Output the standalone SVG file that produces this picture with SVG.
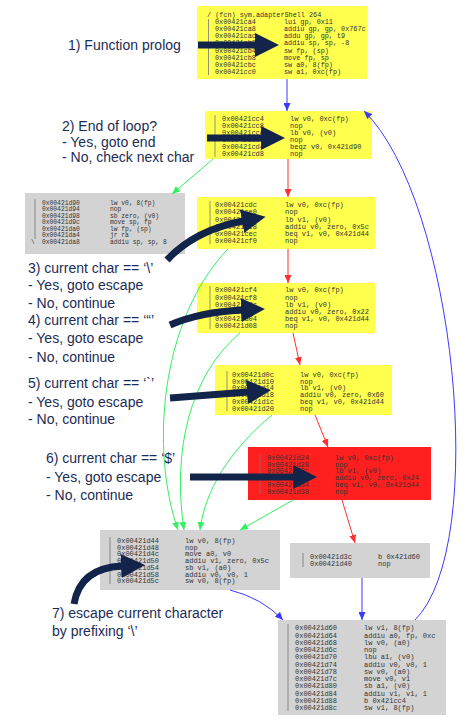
<svg xmlns="http://www.w3.org/2000/svg" width="470" height="723" viewBox="0 0 470 723">
<defs>
<style>
.lbl{font-family:"Liberation Sans",Arial,sans-serif;font-size:14px;fill:#1c2c55}
.code{font-family:"Liberation Mono","Courier New",monospace;font-size:7px;fill:#333}
.code1{font-family:"Liberation Mono","Courier New",monospace;font-size:6.8px;fill:#333}
.code3{font-family:"Liberation Mono","Courier New",monospace;font-size:6.3px;fill:#333}
.yel{fill:#ffff4d}
.gry{fill:#d3d3d3}
.redb{fill:#ff1f1f}
.bar{stroke:#777;stroke-width:0.8}
.thick{fill:none;stroke:#13244a;stroke-width:7}
.g{fill:none;stroke:#33f060;stroke-width:1}
.r{fill:none;stroke:#ff3030;stroke-width:1}
.b{fill:none;stroke:#3a3aff;stroke-width:1}
</style>
<marker id="mth" viewBox="0 0 24 24" refX="1" refY="12" markerWidth="24" markerHeight="24" markerUnits="userSpaceOnUse" orient="auto"><path d="M0,0 L24,12 L0,24 z" fill="#13244a"/></marker>
<marker id="mg" viewBox="0 0 8 7" refX="8" refY="3.5" markerWidth="8" markerHeight="7" markerUnits="userSpaceOnUse" orient="auto"><path d="M0,0 L8,3.5 L0,7 z" fill="#33f060"/></marker>
<marker id="mr" viewBox="0 0 8 7" refX="8" refY="3.5" markerWidth="8" markerHeight="7" markerUnits="userSpaceOnUse" orient="auto"><path d="M0,0 L8,3.5 L0,7 z" fill="#ff3030"/></marker>
<marker id="mb" viewBox="0 0 8 7" refX="8" refY="3.5" markerWidth="8" markerHeight="7" markerUnits="userSpaceOnUse" orient="auto"><path d="M0,0 L8,3.5 L0,7 z" fill="#3a3aff"/></marker>
</defs>
<rect width="470" height="723" fill="#ffffff"/>

<g id="node-prolog">
<rect class="yel" x="197" y="6" width="170" height="73"/>
<line class="bar" x1="208.5" y1="19" x2="208.5" y2="75"/>
<text class="code1" x="207" y="17.3">/ (fcn) sym.adapterShell 264</text>
<text class="code1" y="24"><tspan x="215">0x00421ca4</tspan><tspan x="284">lui gp, 0x11</tspan></text>
<text class="code1" y="31.1"><tspan x="215">0x00421ca8</tspan><tspan x="284">addiu gp, gp, 0x767c</tspan></text>
<text class="code1" y="38.3"><tspan x="215">0x00421cac</tspan><tspan x="284">addu gp, gp, t9</tspan></text>
<text class="code1" y="45.4"><tspan x="215">0x00421cb0</tspan><tspan x="284">addiu sp, sp, -8</tspan></text>
<text class="code1" y="52.6"><tspan x="215">0x00421cb4</tspan><tspan x="284">sw fp, (sp)</tspan></text>
<text class="code1" y="59.7"><tspan x="215">0x00421cb8</tspan><tspan x="284">move fp, sp</tspan></text>
<text class="code1" y="66.8"><tspan x="215">0x00421cbc</tspan><tspan x="284">sw a0, 8(fp)</tspan></text>
<text class="code1" y="74"><tspan x="215">0x00421cc0</tspan><tspan x="284">sw a1, 0xc(fp)</tspan></text>
</g>

<g id="node-loop">
<rect class="yel" x="205" y="111" width="167" height="48"/>
<line class="bar" x1="215" y1="115" x2="215" y2="157"/>
<text class="code" y="121"><tspan x="222">0x00421cc4</tspan><tspan x="290">lw v0, 0xc(fp)</tspan></text>
<text class="code" y="128"><tspan x="222">0x00421cc8</tspan><tspan x="290">nop</tspan></text>
<text class="code" y="135"><tspan x="222">0x00421ccc</tspan><tspan x="290">lb v0, (v0)</tspan></text>
<text class="code" y="142"><tspan x="222">0x00421cd0</tspan><tspan x="290">nop</tspan></text>
<text class="code" y="149"><tspan x="222">0x00421cd4</tspan><tspan x="290">beqz v0, 0x421d90</tspan></text>
<text class="code" y="156"><tspan x="222">0x00421cd8</tspan><tspan x="290">nop</tspan></text>
</g>

<g id="node-end">
<rect class="gry" x="25" y="193" width="160" height="61"/>
<line class="bar" x1="35" y1="199" x2="35" y2="239"/>
<text class="code3" x="31" y="243.8">\</text>
<text class="code3" y="204.8"><tspan x="42">0x00421d90</tspan><tspan x="110">lw v0, 8(fp)</tspan></text>
<text class="code3" y="211.3"><tspan x="42">0x00421d94</tspan><tspan x="110">nop</tspan></text>
<text class="code3" y="217.8"><tspan x="42">0x00421d98</tspan><tspan x="110">sb zero, (v0)</tspan></text>
<text class="code3" y="224.3"><tspan x="42">0x00421d9c</tspan><tspan x="110">move sp, fp</tspan></text>
<text class="code3" y="230.8"><tspan x="42">0x00421da0</tspan><tspan x="110">lw fp, (sp)</tspan></text>
<text class="code3" y="237.3"><tspan x="42">0x00421da4</tspan><tspan x="110">jr ra</tspan></text>
<text class="code3" y="243.8"><tspan x="42">0x00421da8</tspan><tspan x="110">addiu sp, sp, 8</tspan></text>
</g>

<g id="node-backslash">
<rect class="yel" x="197" y="197" width="178" height="52"/>
<line class="bar" x1="210" y1="201" x2="210" y2="244"/>
<text class="code" y="207.3"><tspan x="215">0x00421cdc</tspan><tspan x="285">lw v0, 0xc(fp)</tspan></text>
<text class="code" y="214.4"><tspan x="215">0x00421ce0</tspan><tspan x="285">nop</tspan></text>
<text class="code" y="221.5"><tspan x="215">0x00421ce4</tspan><tspan x="285">lb v1, (v0)</tspan></text>
<text class="code" y="228.6"><tspan x="215">0x00421ce8</tspan><tspan x="285">addiu v0, zero, 0x5c</tspan></text>
<text class="code" y="235.7"><tspan x="215">0x00421cec</tspan><tspan x="285">beq v1, v0, 0x421d44</tspan></text>
<text class="code" y="242.8"><tspan x="215">0x00421cf0</tspan><tspan x="285">nop</tspan></text>
</g>

<g id="node-quote">
<rect class="yel" x="197" y="283" width="178" height="50"/>
<line class="bar" x1="210" y1="286" x2="210" y2="329"/>
<text class="code" y="292.3"><tspan x="215">0x00421cf4</tspan><tspan x="285">lw v0, 0xc(fp)</tspan></text>
<text class="code" y="299.5"><tspan x="215">0x00421cf8</tspan><tspan x="285">nop</tspan></text>
<text class="code" y="306.7"><tspan x="215">0x00421cfc</tspan><tspan x="285">lb v1, (v0)</tspan></text>
<text class="code" y="313.9"><tspan x="215">0x00421d00</tspan><tspan x="285">addiu v0, zero, 0x22</tspan></text>
<text class="code" y="321.1"><tspan x="215">0x00421d04</tspan><tspan x="285">beq v1, v0, 0x421d44</tspan></text>
<text class="code" y="328.3"><tspan x="215">0x00421d08</tspan><tspan x="285">nop</tspan></text>
</g>

<g id="node-backtick">
<rect class="yel" x="215" y="365" width="177" height="50"/>
<line class="bar" x1="227" y1="371" x2="227" y2="411"/>
<text class="code" y="377"><tspan x="232">0x00421d0c</tspan><tspan x="300">lw v0, 0xc(fp)</tspan></text>
<text class="code" y="383.7"><tspan x="232">0x00421d10</tspan><tspan x="300">nop</tspan></text>
<text class="code" y="390.4"><tspan x="232">0x00421d14</tspan><tspan x="300">lb v1, (v0)</tspan></text>
<text class="code" y="397.1"><tspan x="232">0x00421d18</tspan><tspan x="300">addiu v0, zero, 0x60</tspan></text>
<text class="code" y="403.8"><tspan x="232">0x00421d1c</tspan><tspan x="300">beq v1, v0, 0x421d44</tspan></text>
<text class="code" y="410.5"><tspan x="232">0x00421d20</tspan><tspan x="300">nop</tspan></text>
</g>

<g id="node-dollar">
<rect class="redb" x="248" y="447" width="183" height="53"/>
<line class="bar" x1="260" y1="454" x2="260" y2="494"/>
<text class="code" y="460"><tspan x="267">0x00421d24</tspan><tspan x="335">lw v0, 0xc(fp)</tspan></text>
<text class="code" y="466.7"><tspan x="267">0x00421d28</tspan><tspan x="335">nop</tspan></text>
<text class="code" y="473.4"><tspan x="267">0x00421d2c</tspan><tspan x="335">lb v1, (v0)</tspan></text>
<text class="code" y="480.1"><tspan x="267">0x00421d30</tspan><tspan x="335">addiu v0, zero, 0x24</tspan></text>
<text class="code" y="486.8"><tspan x="267">0x00421d34</tspan><tspan x="335">beq v1, v0, 0x421d44</tspan></text>
<text class="code" y="493.5"><tspan x="267">0x00421d38</tspan><tspan x="335">nop</tspan></text>
</g>

<g id="node-escape">
<rect class="gry" x="100" y="530" width="180" height="60"/>
<line class="bar" x1="110" y1="537" x2="110" y2="584"/>
<text class="code" y="543"><tspan x="117">0x00421d44</tspan><tspan x="185">lw v0, 8(fp)</tspan></text>
<text class="code" y="549.7"><tspan x="117">0x00421d48</tspan><tspan x="185">nop</tspan></text>
<text class="code" y="556.4"><tspan x="117">0x00421d4c</tspan><tspan x="185">move a0, v0</tspan></text>
<text class="code" y="563.1"><tspan x="117">0x00421d50</tspan><tspan x="185">addiu v1, zero, 0x5c</tspan></text>
<text class="code" y="569.8"><tspan x="117">0x00421d54</tspan><tspan x="185">sb v1, (a0)</tspan></text>
<text class="code" y="576.5"><tspan x="117">0x00421d58</tspan><tspan x="185">addiu v0, v0, 1</tspan></text>
<text class="code" y="583.2"><tspan x="117">0x00421d5c</tspan><tspan x="185">sw v0, 8(fp)</tspan></text>
</g>

<g id="node-branch">
<rect class="gry" x="290" y="543" width="140" height="35"/>
<line class="bar" x1="303" y1="553" x2="303" y2="567"/>
<text class="code" y="559"><tspan x="310">0x00421d3c</tspan><tspan x="378">b 0x421d60</tspan></text>
<text class="code" y="566.3"><tspan x="310">0x00421d40</tspan><tspan x="378">nop</tspan></text>
</g>

<g id="node-copy">
<rect class="gry" x="278" y="620" width="168" height="95"/>
<line class="bar" x1="288" y1="624" x2="288" y2="711"/>
<text class="code" y="630.3"><tspan x="295">0x00421d60</tspan><tspan x="364">lw v1, 8(fp)</tspan></text>
<text class="code" y="637.6"><tspan x="295">0x00421d64</tspan><tspan x="364">addiu a0, fp, 0xc</tspan></text>
<text class="code" y="644.8"><tspan x="295">0x00421d68</tspan><tspan x="364">lw v0, (a0)</tspan></text>
<text class="code" y="652.1"><tspan x="295">0x00421d6c</tspan><tspan x="364">nop</tspan></text>
<text class="code" y="659.3"><tspan x="295">0x00421d70</tspan><tspan x="364">lbu a1, (v0)</tspan></text>
<text class="code" y="666.6"><tspan x="295">0x00421d74</tspan><tspan x="364">addiu v0, v0, 1</tspan></text>
<text class="code" y="673.8"><tspan x="295">0x00421d78</tspan><tspan x="364">sw v0, (a0)</tspan></text>
<text class="code" y="681.1"><tspan x="295">0x00421d7c</tspan><tspan x="364">move v0, v1</tspan></text>
<text class="code" y="688.3"><tspan x="295">0x00421d80</tspan><tspan x="364">sb a1, (v0)</tspan></text>
<text class="code" y="695.6"><tspan x="295">0x00421d84</tspan><tspan x="364">addiu v1, v1, 1</tspan></text>
<text class="code" y="702.8"><tspan x="295">0x00421d88</tspan><tspan x="364">b 0x421cc4</tspan></text>
<text class="code" y="710.1"><tspan x="295">0x00421d8c</tspan><tspan x="364">sw v1, 8(fp)</tspan></text>
</g>

<g id="connectors">
<path class="b" d="M287,79 L287,111" marker-end="url(#mb)"/>
<path class="g" d="M213,159 L172,194" marker-end="url(#mg)"/>
<path class="r" d="M288,159 L288,197" marker-end="url(#mr)"/>
<path class="r" d="M288,249 L288,283" marker-end="url(#mr)"/>
<path class="r" d="M293,333 L300,365" marker-end="url(#mr)"/>
<path class="r" d="M315,415 L328,447" marker-end="url(#mr)"/>
<path class="r" d="M342,500 L355,543" marker-end="url(#mr)"/>
<path class="b" d="M362,578 L362,620" marker-end="url(#mb)"/>
<path class="b" d="M230,590 Q262,598 283,620" marker-end="url(#mb)"/>
<path class="b" d="M415,620 C490,545 455,200 364,111" marker-end="url(#mb)"/>
<path class="g" d="M228,249 C160,320 150,450 178,530" marker-end="url(#mg)"/>
<path class="g" d="M240,333 C190,375 172,450 184,530" marker-end="url(#mg)"/>
<path class="g" d="M272,415 C230,450 205,490 200,530" marker-end="url(#mg)"/>
<path class="g" d="M293,500 L240,530" marker-end="url(#mg)"/>
</g>

<g id="labels">
<text class="lbl" x="68" y="50">1) Function prolog</text>
<text class="lbl" x="62" y="131">2) End of loop?</text>
<text class="lbl" x="62" y="147">- Yes, goto end</text>
<text class="lbl" x="62" y="162">- No, check next char</text>
<text class="lbl" x="28" y="272.7">3) current char == ‘\’</text>
<text class="lbl" x="28" y="290">- Yes, goto escape</text>
<text class="lbl" x="28" y="307.7">- No, continue</text>
<text class="lbl" x="28" y="325">4) current char == ‘“’</text>
<text class="lbl" x="28" y="343">- Yes, goto escape</text>
<text class="lbl" x="28" y="361.7">- No, continue</text>
<text class="lbl" x="28" y="388">5) current char == ‘`’</text>
<text class="lbl" x="28" y="406.7">- Yes, goto escape</text>
<text class="lbl" x="28" y="424">- No, continue</text>
<text class="lbl" x="46" y="463">6) current char == ‘$’</text>
<text class="lbl" x="46" y="482">- Yes, goto escape</text>
<text class="lbl" x="46" y="500">- No, continue</text>
<text class="lbl" x="52" y="618">7) escape current character</text>
<text class="lbl" x="52" y="636">by prefixing ‘\’</text>
</g>

<g id="pointers">
<path class="thick" d="M198,45 L256,45" marker-end="url(#mth)"/>
<path class="thick" d="M207,138 L262,138" marker-end="url(#mth)"/>
<path class="thick" d="M167,260 Q195,230 243,221" marker-end="url(#mth)"/>
<path class="thick" d="M170,325 Q200,312 242,310" marker-end="url(#mth)"/>
<path class="thick" d="M170,398 L248,392" marker-end="url(#mth)"/>
<path class="thick" d="M190,477 L294,477" marker-end="url(#mth)"/>
<path class="thick" d="M74,604 Q80,568 122,566" marker-end="url(#mth)"/>
</g>
</svg>
